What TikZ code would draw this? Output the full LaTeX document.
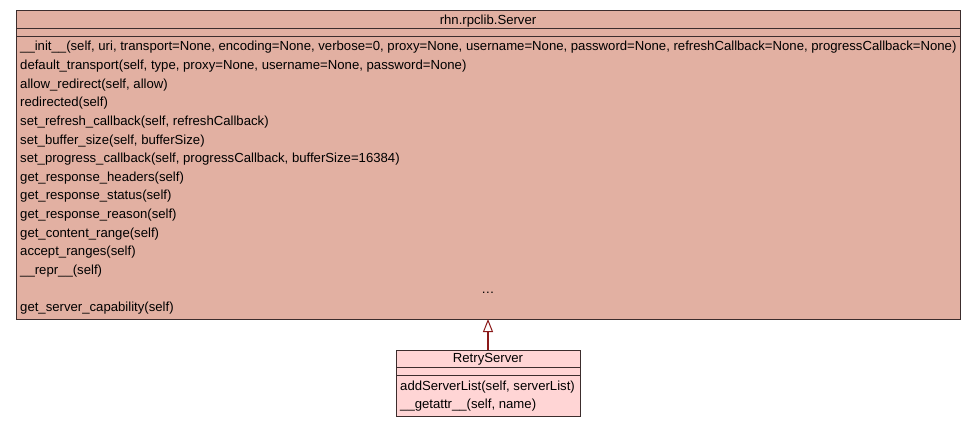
\documentclass[tikz,border=0pt]{standalone}
\usepackage{fontspec}
\setmainfont{Liberation Sans}
\usetikzlibrary{arrows.meta}
\definecolor{basefill}{RGB}{226,176,162}
\definecolor{childfill}{RGB}{255,213,213}
\definecolor{boxline}{RGB}{60,45,45}
\definecolor{inheritline}{RGB}{139,26,26}
\tikzset{
  classbox/.style={draw=boxline, line width=1pt, rectangle, outer sep=0pt, inner sep=0pt},
  member/.style={anchor=base west, inner sep=0pt, font=\fontsize{13.15}{15}\selectfont},
  inherit/.style={draw=inheritline, line width=2.6pt,
    -{Triangle[open, length=13pt, width=10pt, line width=1pt, fill=white]}},
}

\begin{document}
\begin{tikzpicture}[x=1pt, y=-1pt]
  \useasboundingbox (0,0) rectangle (976,427);
  % Base class
  \node[classbox, fill=basefill, minimum width=944pt, minimum height=308pt] (server) at (488,165) {};
  \draw[boxline, line width=1pt] (server.west |- 0,29) -- (server.east |- 0,29);
  \draw[boxline, line width=1pt] (server.west |- 0,37) -- (server.east |- 0,37);
  \node[member, anchor=base] (servertitle) at (488,25) {rhn.rpclib.Server};
  \foreach \m [count=\i from 0] in {
      {\_\_init\_\_(self, uri, transport=None, encoding=None, verbose=0, proxy=None, username=None, password=None, refreshCallback=None, progressCallback=None)},
      {default\_transport(self, type, proxy=None, username=None, password=None)},
      {allow\_redirect(self, allow)},
      {redirected(self)},
      {set\_refresh\_callback(self, refreshCallback)},
      {set\_buffer\_size(self, bufferSize)},
      {set\_progress\_callback(self, progressCallback, bufferSize=16384)},
      {get\_response\_headers(self)},
      {get\_response\_status(self)},
      {get\_response\_reason(self)},
      {get\_content\_range(self)},
      {accept\_ranges(self)},
      {\_\_repr\_\_(self)}}
    \node[member] (servermethod\i) at (20,51+18.62*\i) {\m};
  \node[member, anchor=base] (serverdots) at (488,293.5) {\dots};
  \node[member] (servercap) at (20,312) {get\_server\_capability(self)};

  % Derived class
  \node[classbox, fill=childfill, minimum width=184pt, minimum height=66pt] (retry) at (488,383) {};
  \draw[boxline, line width=1pt] (retry.west |- 0,367.5) -- (retry.east |- 0,367.5);
  \draw[boxline, line width=1pt] (retry.west |- 0,375.5) -- (retry.east |- 0,375.5);
  \node[member, anchor=base] (retrytitle) at (488,362) {RetryServer};
  \node[member] (retryadd) at (400,390) {addServerList(self, serverList)};
  \node[member] (retrygetattr) at (400,408.6) {\_\_getattr\_\_(self, name)};

  \draw[inherit] (retry.north) -- (server.south);
\end{tikzpicture}
\end{document}
